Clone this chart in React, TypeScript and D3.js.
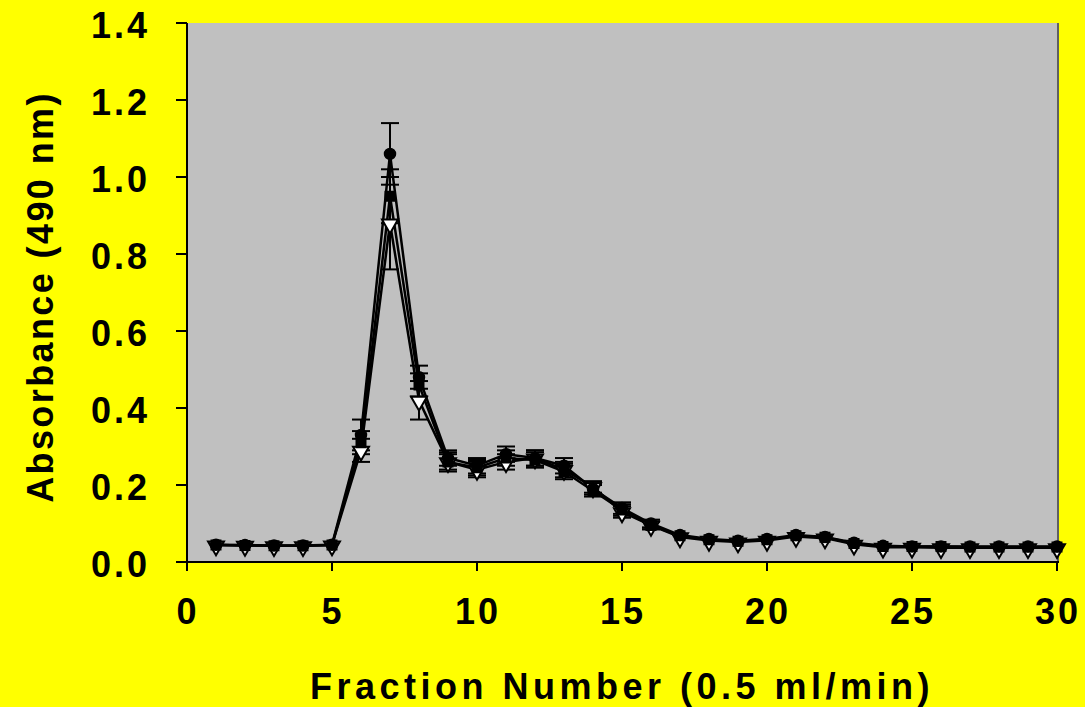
import React, { useEffect, useRef } from "react";
import * as d3 from "d3";

const fractions = [1,2,3,4,5,6,7,8,9,10,11,12,13,14,15,16,17,18,19,20,21,22,23,24,25,26,27,28,29,30];
const seriesFilledCircle = [0.045,0.044,0.043,0.043,0.045,0.33,1.06,0.48,0.27,0.25,0.28,0.27,0.25,0.19,0.14,0.10,0.07,0.06,0.055,0.06,0.07,0.065,0.05,0.042,0.04,0.04,0.04,0.04,0.04,0.04];
const errFilledCircle = [0.005,0.005,0.005,0.005,0.005,0.04,0.08,0.03,0.02,0.02,0.02,0.02,0.02,0.015,0.015,0.01,0.005,0.005,0.005,0.005,0.005,0.005,0.005,0.005,0.005,0.005,0.005,0.005,0.005,0.005];
const seriesFilledSquare = [0.044,0.043,0.042,0.042,0.044,0.31,0.95,0.46,0.26,0.245,0.27,0.265,0.235,0.185,0.135,0.095,0.068,0.058,0.054,0.058,0.068,0.064,0.048,0.04,0.04,0.04,0.039,0.039,0.039,0.039];
const errFilledSquare = [0.005,0.005,0.005,0.005,0.005,0.03,0.07,0.03,0.02,0.02,0.02,0.02,0.02,0.015,0.015,0.01,0.005,0.005,0.005,0.005,0.005,0.005,0.005,0.005,0.005,0.005,0.005,0.005,0.005,0.005];
const seriesOpenTriangle = [0.044,0.043,0.042,0.042,0.044,0.29,0.88,0.42,0.26,0.24,0.26,0.27,0.24,0.195,0.13,0.095,0.065,0.056,0.052,0.056,0.066,0.062,0.046,0.038,0.038,0.037,0.037,0.037,0.037,0.037];
const errOpenTriangle = [0.005,0.005,0.005,0.005,0.005,0.03,0.12,0.05,0.025,0.02,0.02,0.02,0.02,0.015,0.015,0.01,0.005,0.005,0.005,0.005,0.005,0.005,0.005,0.005,0.005,0.005,0.005,0.005,0.005,0.005];
const xTicks = [0,5,10,15,20,25,30];
const yTicks = [0,0.2,0.4,0.6,0.8,1.0,1.2,1.4];
const xTitle = "Fraction Number (0.5 ml/min)";
const yTitle = "Absorbance (490 nm)";

export default function App() {
  const ref = useRef<SVGSVGElement>(null);
  useEffect(() => {
    const svg = d3.select(ref.current);
    svg.selectAll("*").remove();
    const W = 1085, H = 707;
    const left = 187, right = 1057, top = 23, bottom = 562;
    const x = d3.scaleLinear().domain([0, 30]).range([left, right]);
    const y = d3.scaleLinear().domain([0, 1.4]).range([bottom, top]);
    const font = "'Liberation Sans', Arial, sans-serif";

    svg.append("rect").attr("width", W).attr("height", H).attr("fill", "#FFFF00");
    svg.append("rect").attr("x", left).attr("y", top).attr("width", right - left + 2).attr("height", bottom - top)
      .attr("fill", "#C0C0C0");
    svg.append("line").attr("x1", right + 1).attr("x2", right + 1).attr("y1", top).attr("y2", bottom).attr("stroke", "#606060").attr("stroke-width", 2);

    const series = [
      { v: seriesOpenTriangle, e: errOpenTriangle, type: "tri", fill: "#FFFFFF" },
      { v: seriesFilledSquare, e: errFilledSquare, type: "square", fill: "#000000" },
      { v: seriesFilledCircle, e: errFilledCircle, type: "circle", fill: "#000000" },
    ];

    const line = d3.line<number>().x((_, i) => x(fractions[i])).y((d) => y(d));
    const g = svg.append("g");
    series.forEach((s) => {
      g.append("path").attr("d", line(s.v)!).attr("fill", "none").attr("stroke", "#000").attr("stroke-width", 2.5);
    });
    series.forEach((s) => {
      s.v.forEach((v, i) => {
        const cx = x(fractions[i]);
        const e = s.e[i];
        if (e > 0.006) {
          g.append("line").attr("x1", cx).attr("x2", cx).attr("y1", y(v - e)).attr("y2", y(v + e)).attr("stroke", "#000").attr("stroke-width", 2);
          [v - e, v + e].forEach((yy) => {
            g.append("line").attr("x1", cx - 9).attr("x2", cx + 9).attr("y1", y(yy)).attr("y2", y(yy)).attr("stroke", "#000").attr("stroke-width", 2);
          });
        }
      });
    });
    series.forEach((s) => {
      s.v.forEach((v, i) => {
        const cx = x(fractions[i]);
        const cy = y(v);
        if (s.type === "tri") {
          const sym = d3.symbol().type(d3.symbolTriangle).size(110);
          g.append("path").attr("d", sym()!).attr("transform", `translate(${cx},${cy + 1}) rotate(180)`)
            .attr("fill", s.fill).attr("stroke", "#000").attr("stroke-width", 2);
        } else if (s.type === "square") {
          const sym = d3.symbol().type(d3.symbolSquare).size(90);
          g.append("path").attr("d", sym()!).attr("transform", `translate(${cx},${cy})`)
            .attr("fill", s.fill).attr("stroke", "#000").attr("stroke-width", 1.5);
        } else {
          g.append("circle").attr("cx", cx).attr("cy", cy).attr("r", 5.5)
            .attr("fill", s.fill).attr("stroke", "#000").attr("stroke-width", 1.5);
        }
      });
    });

    // axes
    const ax = svg.append("g").attr("stroke", "#000").attr("stroke-width", 2);
    ax.append("line").attr("x1", left).attr("x2", left).attr("y1", top).attr("y2", bottom + 2);
    ax.append("line").attr("x1", left - 11).attr("x2", right + 2).attr("y1", bottom).attr("y2", bottom);
    yTicks.forEach((t) => {
      ax.append("line").attr("x1", left - 11).attr("x2", left).attr("y1", y(t)).attr("y2", y(t));
    });
    xTicks.forEach((t) => {
      ax.append("line").attr("x1", x(t)).attr("x2", x(t)).attr("y1", bottom).attr("y2", bottom + 9);
    });

    yTicks.forEach((t) => {
      svg.append("text").attr("x", 150).attr("y", y(t) + 2).attr("dy", "0.36em").attr("text-anchor", "end")
        .attr("font-family", font).attr("font-weight", "bold").attr("font-size", 36).attr("letter-spacing", 3)
        .attr("fill", "#000").text(t.toFixed(1));
    });
    xTicks.forEach((t) => {
      svg.append("text").attr("x", x(t) + 1).attr("y", 611).attr("dy", "0.36em").attr("text-anchor", "middle")
        .attr("font-family", font).attr("font-weight", "bold").attr("font-size", 36).attr("letter-spacing", 3)
        .attr("fill", "#000").text(String(t));
    });
    svg.append("text").attr("x", 622).attr("y", 686).attr("dy", "0.36em").attr("text-anchor", "middle")
      .attr("font-family", font).attr("font-weight", "bold").attr("font-size", 36).attr("letter-spacing", 4.5)
      .attr("fill", "#000").text(xTitle);
    svg.append("text").attr("transform", `translate(40,297) rotate(-90)`).attr("dy", "0.36em").attr("text-anchor", "middle")
      .attr("font-family", font).attr("font-weight", "bold").attr("font-size", 36).attr("letter-spacing", 2.4)
      .attr("fill", "#000").text(yTitle);
  }, []);
  return (
    <svg ref={ref} width={1085} height={707} style={{ position: "absolute", left: 0, top: 0, display: "block" }} />
  );
}
